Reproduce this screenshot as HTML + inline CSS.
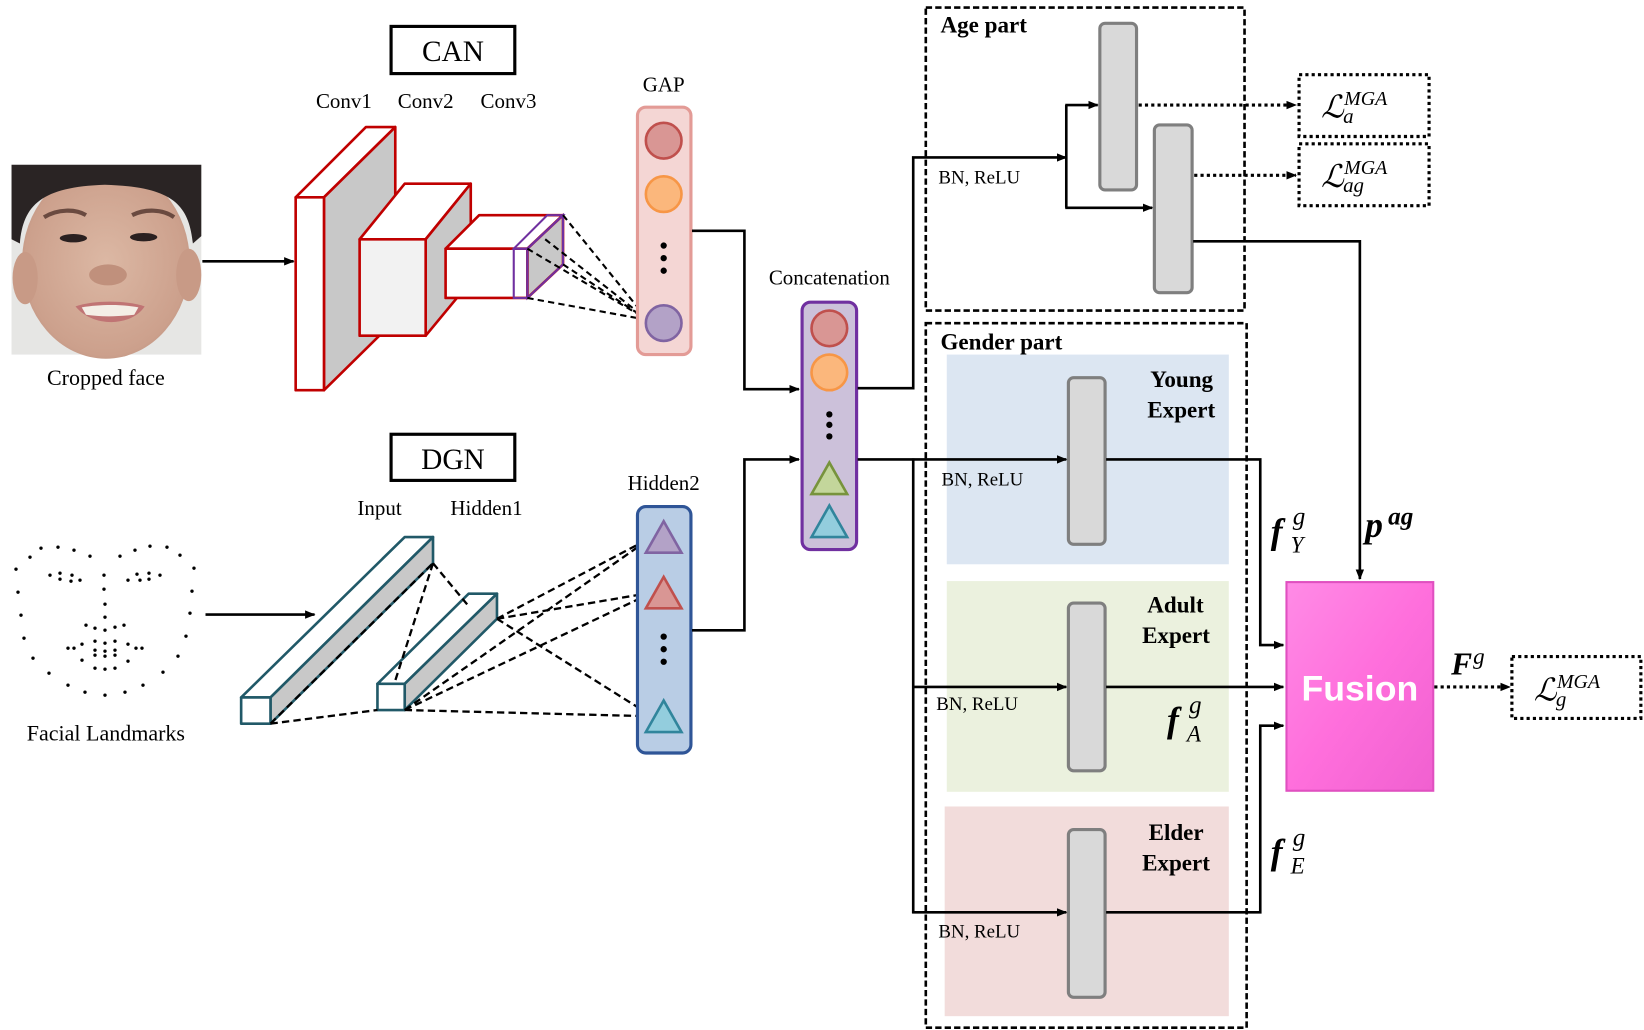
<!DOCTYPE html>
<html><head><meta charset="utf-8"><style>
html,body{margin:0;padding:0;background:#fff;width:1644px;height:1030px;overflow:hidden}
svg{display:block}
text{font-family:"Liberation Serif",serif}
</style></head><body>
<svg width="1644" height="1030" viewBox="0 0 1568 982" xmlns="http://www.w3.org/2000/svg">
<defs>
<marker id="ar" markerWidth="10" markerHeight="10" refX="9" refY="5" orient="auto" markerUnits="userSpaceOnUse"><path d="M0,1 L10,5 L0,9 z" fill="#000"/></marker>
<linearGradient id="fg" x1="0" y1="0" x2="1" y2="1"><stop offset="0" stop-color="#ff8be6"/><stop offset="0.5" stop-color="#ff6fdc"/><stop offset="1" stop-color="#f060d0"/></linearGradient>
<radialGradient id="face" cx="0.5" cy="0.5" r="0.6"><stop offset="0" stop-color="#dcb8a4"/><stop offset="0.8" stop-color="#cca08c"/><stop offset="1" stop-color="#b48c7c"/></radialGradient>
</defs>

<!-- Face -->
<rect x="11" y="157" width="181" height="181" fill="#e6e6e4"/>
<ellipse cx="101" cy="250" rx="80" ry="92" fill="url(#face)"/>
<ellipse cx="24" cy="265" rx="12" ry="25" fill="#c89a86"/>
<ellipse cx="180" cy="262" rx="12" ry="25" fill="#c89a86"/>
<path d="M11,157 H192 V225 L184,232 C180,195 165,178 100,176 C40,178 22,195 19,232 L11,228 Z" fill="#2a2424"/>
<path d="M42,207 C55,199 72,199 82,205" stroke="#6a4a40" stroke-width="4" fill="none"/>
<path d="M126,205 C138,199 155,199 166,207" stroke="#6a4a40" stroke-width="4" fill="none"/>
<ellipse cx="70" cy="227" rx="13" ry="4" fill="#2a2020"/>
<ellipse cx="137" cy="226" rx="13" ry="4" fill="#2a2020"/>
<ellipse cx="103" cy="262" rx="18" ry="10" fill="#c0907c"/>
<path d="M72,292 C90,286 120,286 138,292 C125,312 88,312 72,292 Z" fill="#c07474"/>
<path d="M78,293 C95,290 118,290 132,293 L128,300 C112,302 95,302 82,300 Z" fill="#f4eee6"/>
<text x="101" y="367" font-size="21" text-anchor="middle">Cropped face</text>
<line x1="193" y1="249" x2="280" y2="249" stroke="#000" stroke-width="2.5" marker-end="url(#ar)"/>

<!-- CAN -->
<rect x="373" y="25" width="118" height="45" fill="#fff" stroke="#000" stroke-width="3"/>
<text x="432" y="58" font-size="28" text-anchor="middle">CAN</text>
<text x="328" y="103" font-size="20" text-anchor="middle">Conv1</text>
<text x="406" y="103" font-size="20" text-anchor="middle">Conv2</text>
<text x="485" y="103" font-size="20" text-anchor="middle">Conv3</text>
<g stroke="#c00000" stroke-width="2.5" stroke-linejoin="round">
<polygon points="282,188 349,121 377,121 309,188" fill="#fff"/>
<polygon points="309,188 377,121 377,305 309,372" fill="#c8c8c8"/>
<rect x="282" y="188" width="27" height="184" fill="#fff"/>
<polygon points="343,228 386,175 449,175 406,228" fill="#fff"/>
<polygon points="406,228 449,175 449,268 406,320" fill="#c8c8c8"/>
<rect x="343" y="228" width="63" height="92" fill="#f2f2f2"/>
<polygon points="425,237 457,205 537,205 503,237" fill="#fff"/>
<polygon points="503,237 537,205 537,252 503,284" fill="#c8c8c8"/>
<rect x="425" y="237" width="78" height="47" fill="#fff"/>
</g>
<g stroke="#7030a0" stroke-width="2" fill="none">
<rect x="490" y="237" width="13" height="47"/>
<polygon points="490,237 522,205 537,205 503,237"/>
<polygon points="503,237 537,205 537,252 503,284"/>
</g>
<g stroke="#000" stroke-width="2" stroke-dasharray="6,4">
<line x1="537" y1="205" x2="618" y2="305"/>
<line x1="537" y1="252" x2="618" y2="305"/>
<line x1="503" y1="237" x2="618" y2="305"/>
<line x1="503" y1="284" x2="618" y2="305"/>
<line x1="520" y1="228" x2="618" y2="305"/>
</g>

<!-- GAP -->
<text x="633" y="87" font-size="20" text-anchor="middle">GAP</text>
<rect x="608" y="102" width="51" height="236" rx="8" fill="#f4d6d4" stroke="#e39b96" stroke-width="3"/>
<circle cx="633" cy="134" r="17" fill="#d99694" stroke="#c0504d" stroke-width="2.5"/>
<circle cx="633" cy="185" r="17" fill="#fbb77c" stroke="#f79646" stroke-width="2.5"/>
<circle cx="633" cy="234" r="3" fill="#000"/><circle cx="633" cy="246" r="3" fill="#000"/><circle cx="633" cy="258" r="3" fill="#000"/>
<circle cx="633" cy="308" r="17" fill="#b3a2c7" stroke="#8064a2" stroke-width="2.5"/>
<polyline points="660,220 710,220 710,371 762,371" fill="none" stroke="#000" stroke-width="2.5" marker-end="url(#ar)"/>

<!-- Concat -->
<text x="791" y="271" font-size="20" text-anchor="middle">Concatenation</text>
<rect x="765" y="288" width="52" height="236" rx="8" fill="#ccc1da" stroke="#7030a0" stroke-width="3"/>
<circle cx="791" cy="313" r="17" fill="#d99694" stroke="#c0504d" stroke-width="2.5"/>
<circle cx="791" cy="355" r="17" fill="#fbb77c" stroke="#f79646" stroke-width="2.5"/>
<circle cx="791" cy="395" r="3" fill="#000"/><circle cx="791" cy="405" r="3" fill="#000"/><circle cx="791" cy="416" r="3" fill="#000"/>
<polygon points="791,441 808,471 774,471" fill="#c3d69b" stroke="#77933c" stroke-width="2.5"/>
<polygon points="791,482 808,512 774,512" fill="#93cddd" stroke="#31859c" stroke-width="2.5"/>

<!-- DGN -->
<rect x="373" y="414" width="118" height="44" fill="#fff" stroke="#000" stroke-width="3"/>
<text x="432" y="447" font-size="28" text-anchor="middle">DGN</text>
<text x="362" y="491" font-size="20" text-anchor="middle">Input</text>
<text x="464" y="491" font-size="20" text-anchor="middle">Hidden1</text>
<g fill="#000" transform="scale(0.9537)">
<circle cx="41" cy="548" r="1.7"/><circle cx="58" cy="547" r="1.7"/><circle cx="74" cy="550" r="1.7"/><circle cx="90" cy="556" r="1.7"/><circle cx="30" cy="557" r="1.7"/><circle cx="16" cy="569" r="1.7"/><circle cx="18" cy="592" r="1.7"/><circle cx="21" cy="615" r="1.7"/><circle cx="24" cy="638" r="1.7"/><circle cx="33" cy="658" r="1.7"/><circle cx="49" cy="673" r="1.7"/><circle cx="68" cy="685" r="1.7"/><circle cx="85" cy="692" r="1.7"/>
<circle cx="120" cy="556" r="1.7"/><circle cx="135" cy="550" r="1.7"/><circle cx="150" cy="546" r="1.7"/><circle cx="167" cy="547" r="1.7"/><circle cx="180" cy="555" r="1.7"/><circle cx="194" cy="568" r="1.7"/><circle cx="192" cy="591" r="1.7"/><circle cx="190" cy="613" r="1.7"/><circle cx="186" cy="636" r="1.7"/><circle cx="178" cy="656" r="1.7"/><circle cx="163" cy="672" r="1.7"/><circle cx="143" cy="685" r="1.7"/><circle cx="125" cy="692" r="1.7"/><circle cx="105" cy="695" r="1.7"/>
<circle cx="50" cy="575" r="1.7"/><circle cx="60" cy="573" r="1.7"/><circle cx="72" cy="575" r="1.7"/><circle cx="60" cy="579" r="1.7"/><circle cx="71" cy="581" r="1.7"/><circle cx="80" cy="580" r="1.7"/>
<circle cx="128" cy="580" r="1.7"/><circle cx="137" cy="574" r="1.7"/><circle cx="140" cy="580" r="1.7"/><circle cx="149" cy="573" r="1.7"/><circle cx="149" cy="579" r="1.7"/><circle cx="160" cy="575" r="1.7"/>
<circle cx="104" cy="575" r="1.7"/><circle cx="104" cy="589" r="1.7"/><circle cx="105" cy="604" r="1.7"/><circle cx="105" cy="617" r="1.7"/><circle cx="86" cy="625" r="1.7"/><circle cx="95" cy="628" r="1.7"/><circle cx="105" cy="630" r="1.7"/><circle cx="115" cy="627" r="1.7"/><circle cx="124" cy="625" r="1.7"/>
<circle cx="68" cy="648" r="1.7"/><circle cx="74" cy="648" r="1.7"/><circle cx="82" cy="644" r="1.7"/><circle cx="95" cy="641" r="1.7"/><circle cx="105" cy="643" r="1.7"/><circle cx="115" cy="641" r="1.7"/><circle cx="128" cy="644" r="1.7"/><circle cx="136" cy="648" r="1.7"/><circle cx="142" cy="648" r="1.7"/><circle cx="95" cy="650" r="1.7"/><circle cx="105" cy="651" r="1.7"/><circle cx="115" cy="650" r="1.7"/><circle cx="95" cy="655" r="1.7"/><circle cx="105" cy="656" r="1.7"/><circle cx="115" cy="655" r="1.7"/><circle cx="82" cy="660" r="1.7"/><circle cx="128" cy="661" r="1.7"/><circle cx="95" cy="668" r="1.7"/><circle cx="105" cy="669" r="1.7"/><circle cx="115" cy="668" r="1.7"/>
</g>
<text x="101" y="706" font-size="21" text-anchor="middle">Facial Landmarks</text>
<line x1="196" y1="586" x2="300" y2="586" stroke="#000" stroke-width="2.5" marker-end="url(#ar)"/>
<g stroke="#215968" stroke-width="2.5" stroke-linejoin="round">
<polygon points="230,665 386,512 413,512 258,665" fill="#fff"/>
<polygon points="258,665 413,512 413,537 258,690" fill="#c8c8c8"/>
<rect x="230" y="665" width="28" height="25" fill="#fff"/>
<polygon points="360,652 447,566 474,566 386,652" fill="#fff"/>
<polygon points="386,652 474,566 474,590 386,677" fill="#c8c8c8"/>
<rect x="360" y="652" width="26" height="25" fill="#fff"/>
</g>
<g stroke="#000" stroke-width="2.2" stroke-dasharray="7,4">
<line x1="258" y1="690" x2="360" y2="677"/>
<line x1="258" y1="690" x2="413" y2="537"/>
<line x1="413" y1="537" x2="376" y2="652"/>
<line x1="413" y1="537" x2="447" y2="578"/>
<line x1="386" y1="677" x2="622" y2="512"/>
<line x1="386" y1="677" x2="622" y2="565"/>
<line x1="386" y1="677" x2="622" y2="683"/>
<line x1="474" y1="590" x2="622" y2="512"/>
<line x1="474" y1="590" x2="622" y2="565"/>
<line x1="474" y1="590" x2="622" y2="683"/>
</g>

<!-- Hidden2 -->
<text x="633" y="467" font-size="20" text-anchor="middle">Hidden2</text>
<rect x="608" y="483" width="51" height="235" rx="8" fill="#b9cde5" stroke="#2f5597" stroke-width="3"/>
<polygon points="633,497 650,527 616,527" fill="#b3a2c7" stroke="#8064a2" stroke-width="2.5"/>
<polygon points="633,550 650,580 616,580" fill="#d99694" stroke="#c0504d" stroke-width="2.5"/>
<circle cx="633" cy="607" r="3" fill="#000"/><circle cx="633" cy="619" r="3" fill="#000"/><circle cx="633" cy="631" r="3" fill="#000"/>
<polygon points="633,668 650,698 616,698" fill="#93cddd" stroke="#31859c" stroke-width="2.5"/>
<polyline points="660,601 710,601 710,438 762,438" fill="none" stroke="#000" stroke-width="2.5" marker-end="url(#ar)"/>

<!-- Age part -->
<rect x="883" y="7" width="304" height="289" fill="none" stroke="#000" stroke-width="2.5" stroke-dasharray="6,3"/>
<text x="897" y="31" font-size="22" font-weight="bold">Age part</text>
<rect x="1049" y="22" width="35" height="159" rx="5" fill="#d9d9d9" stroke="#7f7f7f" stroke-width="3"/>
<rect x="1101" y="119" width="36" height="160" rx="5" fill="#d9d9d9" stroke="#7f7f7f" stroke-width="3"/>
<polyline points="818,370 871,370 871,150 1017,150" fill="none" stroke="#000" stroke-width="2.5" marker-end="url(#ar)"/>
<text x="895" y="175" font-size="18">BN, ReLU</text>
<line x1="1017" y1="100" x2="1017" y2="198" stroke="#000" stroke-width="2.5"/>
<line x1="1016" y1="100" x2="1047" y2="100" stroke="#000" stroke-width="2.5" marker-end="url(#ar)"/>
<line x1="1016" y1="198" x2="1099" y2="198" stroke="#000" stroke-width="2.5" marker-end="url(#ar)"/>
<line x1="1086" y1="100" x2="1236" y2="100" stroke="#000" stroke-width="3" stroke-dasharray="3,3" marker-end="url(#ar)"/>
<line x1="1139" y1="167" x2="1236" y2="167" stroke="#000" stroke-width="3" stroke-dasharray="3,3" marker-end="url(#ar)"/>
<rect x="1239" y="71" width="124" height="59" fill="#fff" stroke="#000" stroke-width="3" stroke-dasharray="3,3"/>
<rect x="1239" y="137" width="124" height="59" fill="#fff" stroke="#000" stroke-width="3" stroke-dasharray="3,3"/>
<text x="1260" y="112" font-size="30" font-style="italic">ℒ</text><text x="1281" y="117" font-size="20" font-style="italic">a</text><text x="1282" y="100" font-size="19" font-style="italic">MGA</text>
<text x="1260" y="178" font-size="30" font-style="italic">ℒ</text><text x="1281" y="183" font-size="20" font-style="italic">ag</text><text x="1282" y="166" font-size="19" font-style="italic">MGA</text>
<polyline points="1138,230 1297,230 1297,552" fill="none" stroke="#000" stroke-width="2.5" marker-end="url(#ar)"/>
<text x="1302" y="512" font-size="34" font-weight="bold" font-style="italic">p</text><text x="1324" y="500" font-size="24" font-weight="bold" font-style="italic">ag</text>

<!-- Gender part -->
<rect x="883" y="308" width="306" height="672" fill="none" stroke="#000" stroke-width="2.5" stroke-dasharray="6,3"/>
<rect x="903" y="338" width="269" height="200" fill="#dce6f2"/>
<rect x="903" y="554" width="269" height="201" fill="#ebf1de"/>
<rect x="901" y="769" width="271" height="200" fill="#f2dcdb"/>
<text x="897" y="333" font-size="22" font-weight="bold">Gender part</text>
<text x="1157" y="369" font-size="22" font-weight="bold" text-anchor="end">Young</text>
<text x="1159" y="398" font-size="22" font-weight="bold" text-anchor="end">Expert</text>
<text x="1148" y="584" font-size="22" font-weight="bold" text-anchor="end">Adult</text>
<text x="1154" y="613" font-size="22" font-weight="bold" text-anchor="end">Expert</text>
<text x="1148" y="801" font-size="22" font-weight="bold" text-anchor="end">Elder</text>
<text x="1154" y="830" font-size="22" font-weight="bold" text-anchor="end">Expert</text>
<rect x="1019" y="360" width="35" height="159" rx="5" fill="#d9d9d9" stroke="#7f7f7f" stroke-width="3"/>
<rect x="1019" y="575" width="35" height="160" rx="5" fill="#d9d9d9" stroke="#7f7f7f" stroke-width="3"/>
<rect x="1019" y="791" width="35" height="160" rx="5" fill="#d9d9d9" stroke="#7f7f7f" stroke-width="3"/>
<line x1="818" y1="438" x2="1017" y2="438" stroke="#000" stroke-width="2.5" marker-end="url(#ar)"/>
<line x1="871" y1="437" x2="871" y2="871" stroke="#000" stroke-width="2.5"/>
<line x1="870" y1="655" x2="1017" y2="655" stroke="#000" stroke-width="2.5" marker-end="url(#ar)"/>
<line x1="870" y1="870" x2="1017" y2="870" stroke="#000" stroke-width="2.5" marker-end="url(#ar)"/>
<text x="898" y="463" font-size="18">BN, ReLU</text>
<text x="893" y="677" font-size="18">BN, ReLU</text>
<text x="895" y="894" font-size="18">BN, ReLU</text>
<polyline points="1055,438 1202,438 1202,615 1224,615" fill="none" stroke="#000" stroke-width="2.5" marker-end="url(#ar)"/>
<line x1="1055" y1="655" x2="1224" y2="655" stroke="#000" stroke-width="2.5" marker-end="url(#ar)"/>
<polyline points="1055,870 1202,870 1202,692 1224,692" fill="none" stroke="#000" stroke-width="2.5" marker-end="url(#ar)"/>
<g font-style="italic">
<text x="1212" y="518" font-size="34" font-weight="bold">f</text><text x="1233" y="500" font-size="24">g</text><text x="1231" y="527" font-size="22">Y</text>
<text x="1113" y="698" font-size="34" font-weight="bold">f</text><text x="1134" y="680" font-size="24">g</text><text x="1132" y="707" font-size="22">A</text>
<text x="1212" y="824" font-size="34" font-weight="bold">f</text><text x="1233" y="806" font-size="24">g</text><text x="1231" y="833" font-size="22">E</text>
</g>

<!-- Fusion -->
<rect x="1227" y="555" width="140" height="199" fill="url(#fg)" stroke="#e050c0" stroke-width="2"/>
<text x="1297" y="668" font-size="34" font-weight="bold" fill="#fff" text-anchor="middle" style="font-family:'Liberation Sans',sans-serif">Fusion</text>
<line x1="1368" y1="655" x2="1440" y2="655" stroke="#000" stroke-width="3" stroke-dasharray="3,3" marker-end="url(#ar)"/>
<text x="1384" y="643" font-size="30" font-weight="bold" font-style="italic">F</text><text x="1405" y="633" font-size="22" font-style="italic">g</text>
<rect x="1442" y="626" width="123" height="59" fill="#fff" stroke="#000" stroke-width="3" stroke-dasharray="3,3"/>
<text x="1463" y="668" font-size="30" font-style="italic">ℒ</text><text x="1484" y="673" font-size="20" font-style="italic">g</text><text x="1485" y="656" font-size="19" font-style="italic">MGA</text>
</svg>
</body></html>
